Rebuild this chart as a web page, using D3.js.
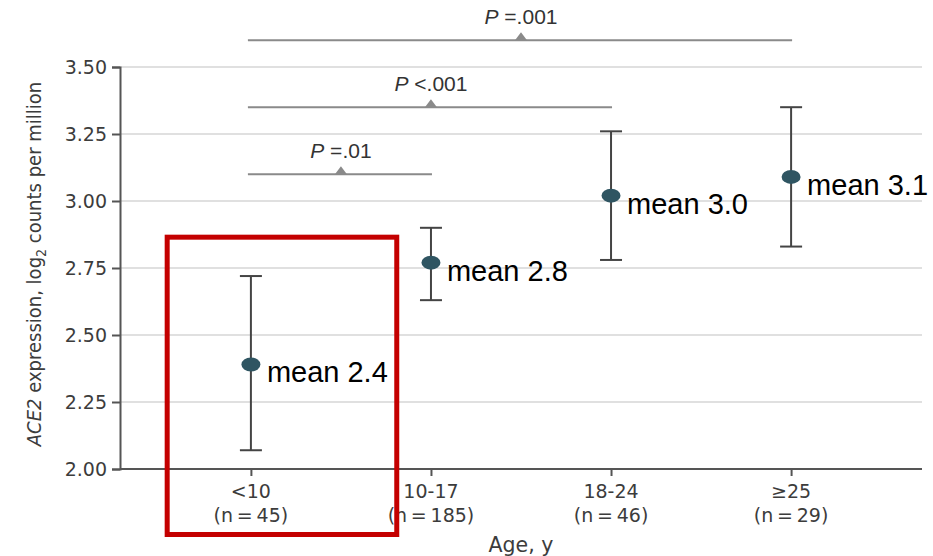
<!DOCTYPE html>
<html>
<head>
<meta charset="utf-8">
<script src="https://cdn.jsdelivr.net/npm/d3@7/dist/d3.min.js"></script>
<style>
  html, body { margin: 0; padding: 0; background: #fff; }
  svg { display: block; }
</style>
</head>
<body>
<svg id="chart" width="933" height="556"></svg>
<script>
// Age groups and sample sizes
const groups = ["<10", "10-17", "18-24", "\u226525"];
const counts = [45, 185, 46, 29];

// ACE2 expression (log2 counts per million): group means and 95% CI bounds
const means = [2.39, 2.77, 3.02, 3.09];
const lower = [2.07, 2.63, 2.78, 2.83];
const upper = [2.72, 2.90, 3.26, 3.35];

// Y-axis ticks
const yTicks = [2.00, 2.25, 2.50, 2.75, 3.00, 3.25, 3.50];

// Pairwise comparisons against the youngest group
const compareFrom = ["<10", "<10", "<10"];
const compareTo = ["10-17", "18-24", "\u226525"];
const pOperators = ["=", "<", "="];
const pValues = [".01", ".001", ".001"];
const bracketLevels = [3.10, 3.35, 3.60];

const svg = d3.select("#chart");
const margin = { left: 120, top: 67, right: 11, bottom: 87 };
const W = 933, H = 556;
const x0 = margin.left, x1 = W - margin.right;
const y0 = H - margin.bottom, y1 = margin.top;

const x = d3.scalePoint().domain(groups).range([x0, x1]).padding(0.727);
const y = d3.scaleLinear().domain([2, 3.5]).range([y0, y1]);

const tickFont = "DejaVu Sans, sans-serif";
const axisColor = "#555";
const labelColor = "#3c3c3c";

// Horizontal gridlines
svg.append("g")
  .selectAll("line")
  .data(yTicks.slice(1))
  .join("line")
  .attr("x1", x0).attr("x2", x1)
  .attr("y1", d => y(d)).attr("y2", d => y(d))
  .attr("stroke", "#e0e0e0")
  .attr("stroke-width", 2);

// Y axis
const yAxis = svg.append("g")
  .attr("transform", `translate(${x0},0)`)
  .call(d3.axisLeft(y).tickValues(yTicks).tickFormat(d3.format(".2f")).tickSize(8).tickPadding(5));
yAxis.select(".domain").attr("stroke", axisColor).attr("stroke-width", 2);
yAxis.selectAll(".tick line").attr("stroke", axisColor).attr("stroke-width", 2);
yAxis.selectAll(".tick text")
  .attr("font-family", tickFont)
  .attr("font-size", 19)
  .attr("fill", labelColor);

// X axis
const xAxis = svg.append("g")
  .attr("transform", `translate(0,${y0})`)
  .call(d3.axisBottom(x).tickSize(7).tickFormat(""));
xAxis.select(".domain").attr("d", `M${x0},0H${x1}`).attr("stroke", axisColor).attr("stroke-width", 2);
xAxis.selectAll(".tick line").attr("stroke", axisColor).attr("stroke-width", 2);

// Two-line category labels
const xl = svg.append("g")
  .selectAll("text")
  .data(groups)
  .join("text")
  .attr("x", d => x(d))
  .attr("text-anchor", "middle")
  .attr("font-family", tickFont)
  .attr("font-size", 19)
  .attr("fill", labelColor);
xl.append("tspan").attr("x", d => x(d)).attr("y", y0 + 29).text(d => d);
xl.append("tspan").attr("x", d => x(d)).attr("y", y0 + 53)
  .text((d, i) => `(n\u2009=\u2009${counts[i]})`);

// Axis titles
svg.append("text")
  .attr("x", (x0 + x1) / 2)
  .attr("y", y0 + 83)
  .attr("text-anchor", "middle")
  .attr("font-family", tickFont)
  .attr("font-size", 20.5)
  .attr("fill", labelColor)
  .text("Age, y");

const yTitle = svg.append("text")
  .attr("transform", `translate(41,${(y0 + y1) / 2 - 4}) rotate(-90)`)
  .attr("text-anchor", "middle")
  .attr("font-family", "DejaVu Sans Condensed, DejaVu Sans, sans-serif")
  .attr("font-stretch", "condensed")
  .attr("font-size", 20)
  .attr("fill", labelColor);
yTitle.append("tspan").attr("font-style", "italic").text("ACE2");
yTitle.append("tspan").text(" expression, log");
yTitle.append("tspan").attr("font-size", 14).attr("dy", 5).text("2");
yTitle.append("tspan").attr("dy", -5).text(" counts per million");

// Significance brackets
const brackets = svg.append("g")
  .selectAll("g")
  .data(bracketLevels.map((lvl, i) => ({ lvl, i })))
  .join("g");
brackets.append("line")
  .attr("x1", d => x(compareFrom[d.i]) - 3)
  .attr("x2", d => x(compareTo[d.i]) + 1)
  .attr("y1", d => y(d.lvl)).attr("y2", d => y(d.lvl))
  .attr("stroke", "#8a8a8a")
  .attr("stroke-width", 2);
brackets.append("path")
  .attr("d", d => {
    const cx = (x(compareFrom[d.i]) + x(compareTo[d.i])) / 2;
    const cy = y(d.lvl);
    return `M${cx - 6},${cy}L${cx},${cy - 8}L${cx + 6},${cy}Z`;
  })
  .attr("fill", "#8a8a8a");
const pText = brackets.append("text")
  .attr("x", d => (x(compareFrom[d.i]) + x(compareTo[d.i])) / 2)
  .attr("y", d => y(d.lvl) - 16)
  .attr("text-anchor", "middle")
  .attr("font-family", "Liberation Sans, Arial, sans-serif")
  .attr("font-size", 21)
  .attr("fill", "#333");
pText.append("tspan").attr("font-style", "italic").text("P");
pText.append("tspan").text(d => ` ${pOperators[d.i]}${pValues[d.i]}`);

// Confidence intervals
const bars = svg.append("g")
  .selectAll("g")
  .data(groups.map((g, i) => ({ g, i })))
  .join("g")
  .attr("stroke", "#444")
  .attr("stroke-width", 2);
bars.append("line")
  .attr("x1", d => x(d.g)).attr("x2", d => x(d.g))
  .attr("y1", d => y(lower[d.i])).attr("y2", d => y(upper[d.i]));
bars.append("line")
  .attr("x1", d => x(d.g) - 11).attr("x2", d => x(d.g) + 11)
  .attr("y1", d => y(upper[d.i])).attr("y2", d => y(upper[d.i]));
bars.append("line")
  .attr("x1", d => x(d.g) - 11).attr("x2", d => x(d.g) + 11)
  .attr("y1", d => y(lower[d.i])).attr("y2", d => y(lower[d.i]));

// Group means
svg.append("g")
  .selectAll("ellipse")
  .data(groups.map((g, i) => ({ g, i })))
  .join("ellipse")
  .attr("cx", d => x(d.g))
  .attr("cy", d => y(means[d.i]))
  .attr("rx", 9.5)
  .attr("ry", 7)
  .attr("fill", "#2f5562");

// Mean value labels
svg.append("g")
  .selectAll("text")
  .data(groups.map((g, i) => ({ g, i })))
  .join("text")
  .attr("x", d => x(d.g) + 16)
  .attr("y", d => y(means[d.i]) + 18)
  .attr("font-family", "Liberation Sans, Arial, sans-serif")
  .attr("font-size", 29)
  .attr("fill", "#000")
  .text(d => `mean ${d3.format(".1f")(means[d.i])}`);

// Highlight box around the youngest group
const step = x.step();
svg.append("rect")
  .attr("x", x("<10") - 0.465 * step)
  .attr("y", y(2.865))
  .attr("width", 1.275 * step)
  .attr("height", (y0 + 65.5) - y(2.865))
  .attr("fill", "none")
  .attr("stroke", "#c40000")
  .attr("stroke-width", 5);
</script>
</body>
</html>
